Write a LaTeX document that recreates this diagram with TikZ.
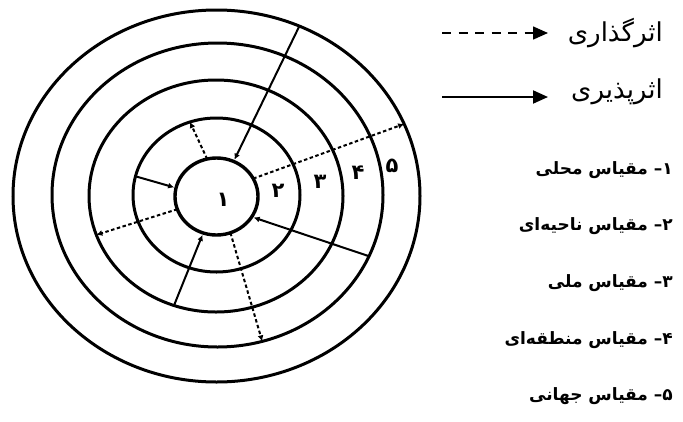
\documentclass[tikz,border=0pt]{standalone}
\usepackage{fontspec}
\usetikzlibrary{shapes.geometric,arrows.meta}
\newfontfamily\arabicfont[Script=Arabic]{DejaVu Sans}
\TeXXeTstate=1
\begin{document}
\begin{tikzpicture}[x=1pt,y=-1pt,
  ring/.style={draw, ellipse, line width=3pt, inner sep=0pt, outer sep=0pt},
  infl/.style={line width=2pt, -{Latex[length=6pt,width=6pt]}, shorten >=2pt},
  effect/.style={line width=2pt, dash pattern=on 3.5pt off 2.5pt, -{Latex[length=6pt,width=6pt]}},
  num/.style={inner sep=0pt, font=\arabicfont\bfseries\fontsize{21}{24}\selectfont},
  legtext/.style={inner sep=0pt, anchor=east, font=\arabicfont\fontsize{26}{30}\selectfont},
  listtext/.style={inner sep=0pt, anchor=east, font=\arabicfont\bfseries\fontsize{17}{20}\selectfont}]
\useasboundingbox (0,0) rectangle (683,421);
% rings
\node[ring, minimum width=407pt, minimum height=372pt] (c5) at (216.5,196) {};
\node[ring, minimum width=331pt, minimum height=304pt] (c4) at (217.5,195) {};
\node[ring, minimum width=254pt, minimum height=232pt] (c3) at (216,196) {};
\node[ring, minimum width=167pt, minimum height=154pt] (c2) at (216.5,195) {};
\node[ring, line width=3.4pt, minimum width=83pt, minimum height=77pt] (c1) at (216.5,196.5) {};
% connectors
\draw[infl] (c5.64) -- (c1.64);
\draw[infl] (c2.167) -- (c1.168);
\draw[infl] (c3.249) -- (c1.250);
\draw[infl] (c4.338) -- (c1.330);
\draw[effect] (c1.26) -- (c5.21);
\draw[effect] (c1.198) -- (c3.198);
\draw[effect] (c1.291) -- (c4.287);
\draw[effect] (c1.104) -- (c2.110);
% ring numbers
\node[num] (n1) at (223,200) {۱};
\node[num] (n2) at (278,191) {۲};
\node[num] (n3) at (320,182) {۳};
\node[num] (n4) at (358,173) {۴};
\node[num] (n5) at (392,166) {۵};
% legend
\node[legtext] (l1) at (663,33) {\beginR اثرگذاری\endR};
\node[legtext] (l2) at (663,92) {\beginR اثرپذیری\endR};
\coordinate (d0) at (442,33);
\coordinate (d1) at (548,33);
\coordinate (s0) at (442,97);
\coordinate (s1) at (548,97);
\draw[line width=1.5pt, dash pattern=on 9pt off 7.5pt, -{Triangle[length=15pt,width=13pt]}] (d0) -- (d1);
\draw[line width=2pt, -{Triangle[length=15pt,width=13pt]}] (s0) -- (s1);
% list
\node[listtext] (t1) at (673,170) {\beginR ۱– مقیاس محلی\endR};
\node[listtext] (t2) at (673,226) {\beginR ۲– مقیاس ناحیه^^^^200cای\endR};
\node[listtext] (t3) at (673,283) {\beginR ۳– مقیاس ملی\endR};
\node[listtext] (t4) at (673,340) {\beginR ۴– مقیاس منطقه^^^^200cای\endR};
\node[listtext] (t5) at (673,396) {\beginR ۵– مقیاس جهانی\endR};
\end{tikzpicture}
\end{document}
